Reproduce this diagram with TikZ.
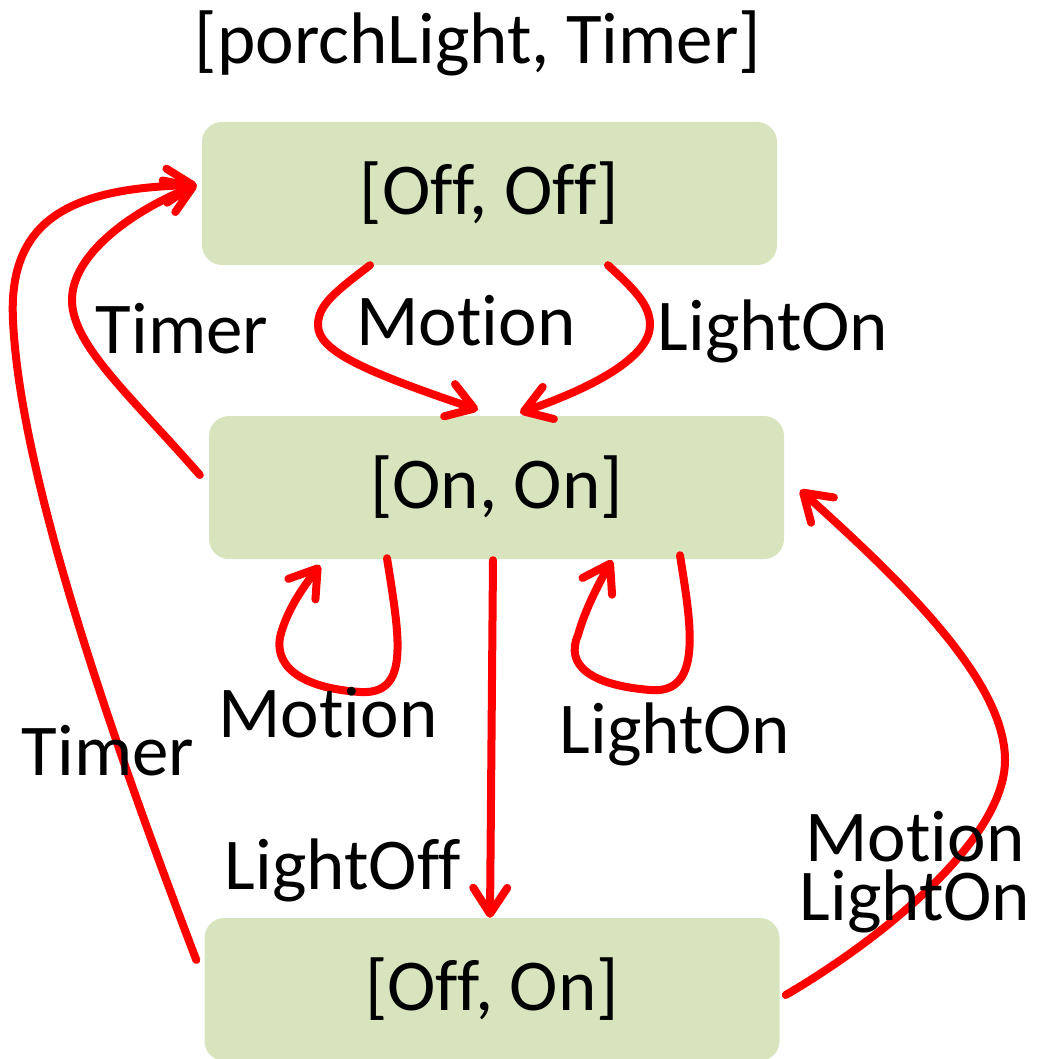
\documentclass[tikz,border=0pt]{standalone}
\usepackage{fontspec}
\setmainfont{Carlito}[Ligatures={NoCommon,NoDiscretionary,NoRare,NoContextual}]
\usetikzlibrary{arrows.meta}
\definecolor{boxfill}{HTML}{D7E4BD}
\definecolor{arrred}{HTML}{FF0000}
\begin{document}
\begin{tikzpicture}[x=1pt,y=-1pt,
  every node/.style={font=\fontsize{73}{86}\selectfont},
  state/.style={fill=boxfill, rounded corners=20pt, minimum width=575pt, minimum height=143pt, inner sep=0pt},
  lbl/.style={anchor=base, inner sep=0pt},
  arr/.style={draw=arrred, line width=8pt, line cap=round, line join=round,
    -{Straight Barb[round,length=26pt,width=34pt]}}]
\useasboundingbox (0,0) rectangle (1036,1059);

% title
\node[lbl] (title) at (478,64) {[porchLight, Timer]};

% states
\node[state] (oo) at (489.5,193.5) {[Off, Off]};
\node[state] (nn) at (496.5,487.5) {[On, On]};
\node[state] (fo) at (492,989.5) {[Off, On]};

% Off,Off -> On,On (Motion)
\draw[arr] ([xshift=-119.5pt]oo.south) .. controls (335,292) and (318,305) .. (318,325)
  .. controls (318,350) and (360,370) .. ([xshift=-18.5pt,yshift=6pt]nn.north);
% Off,Off -> On,On (LightOn)
\draw[arr] ([xshift=118.5pt]oo.south) .. controls (635,290) and (650,305) .. (650,325)
  .. controls (650,355) and (600,385) .. ([xshift=23.5pt,yshift=3pt]nn.north);
% On,On -> Off,Off (Timer)
\draw[arr] ([xshift=-9pt,yshift=12.5pt]nn.west) .. controls (130,395) and (72,345) .. (72,300)
  .. controls (72,255) and (130,212) .. ([xshift=-5pt,yshift=8.5pt]oo.west);
% Off,On -> Off,Off (Timer)
\draw[arr] ([xshift=-8pt,yshift=29.5pt]fo.west) .. controls (120,760) and (20,480) .. (13,320)
  .. controls (8,220) and (70,188) .. ([xshift=-5pt,yshift=8.5pt]oo.west);
% self loop Motion
\draw[arr] ([xshift=-109.5pt,yshift=1pt]nn.south) .. controls (400,640) and (410,695) .. (360,692)
  .. controls (300,688) and (270,665) .. (282,630)
  .. controls (290,605) and (305,585) .. ([xshift=-176.5pt,yshift=-6pt]nn.south);
% self loop LightOn
\draw[arr] ([xshift=183.5pt,yshift=4pt]nn.south) .. controls (690,620) and (705,695) .. (650,690)
  .. controls (590,685) and (565,665) .. (578,635)
  .. controls (585,610) and (598,585) .. ([xshift=115.5pt,yshift=-1pt]nn.south);
% On,On -> Off,On (LightOff)
\draw[arr] ([xshift=-3.5pt,yshift=-1pt]nn.south) -- ([xshift=-2pt]fo.north);
% Off,On -> On,On (Motion, LightOn)
\draw[arr] ([xshift=6pt,yshift=-5.5pt]fo.east) .. controls (880,940) and (1005,840) .. (1005,760)
  .. controls (1005,680) and (900,580) .. ([xshift=16pt,yshift=-2.5pt]nn.east);

% labels
\node[lbl] (lMotA) at (466,345) {Motion};
\node[lbl] (lOnA) at (773,350) {LightOn};
\node[lbl] (lTimA) at (182,353) {Timer};
\node[lbl] (lMotB) at (328,737) {Motion};
\node[lbl] (lOnB) at (675,753) {LightOn};
\node[lbl] (lTimB) at (108,775) {Timer};
\node[lbl] (lOff) at (343,889) {LightOff};
\node[lbl, align=center, font=\fontsize{73}{59}\selectfont] (lMotOn) at (915,920) {Motion\\LightOn};
\end{tikzpicture}
\end{document}
